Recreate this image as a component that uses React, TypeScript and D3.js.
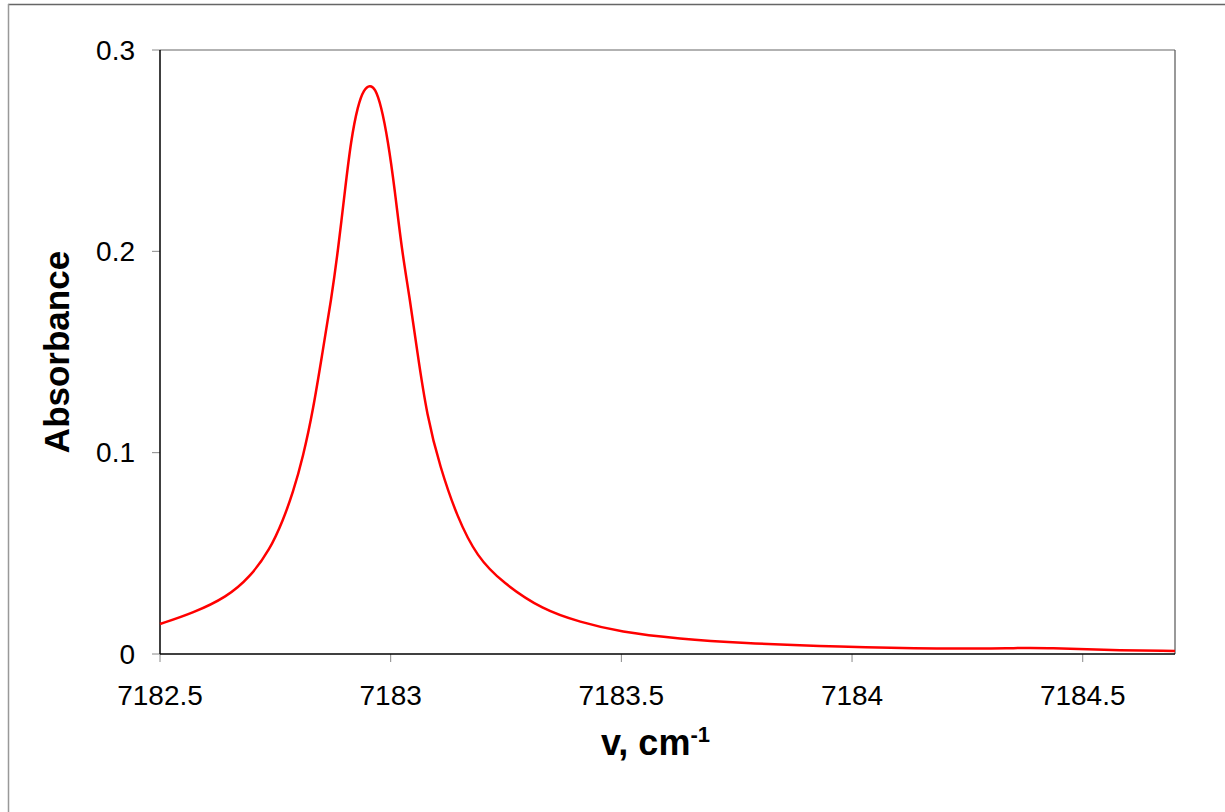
import React, { useEffect, useRef } from 'react';
import * as d3 from 'd3';

// wavenumber (cm-1) and absorbance
const wavenumber = [
  7182.5, 7182.572, 7182.645, 7182.695, 7182.738, 7182.767, 7182.788, 7182.81,
  7182.832, 7182.853, 7182.871, 7182.886, 7182.901, 7182.914, 7182.929, 7182.942,
  7182.955, 7182.966, 7182.979, 7182.994, 7183.009, 7183.024, 7183.042, 7183.057,
  7183.079, 7183.107, 7183.144, 7183.187, 7183.243, 7183.33, 7183.41, 7183.497,
  7183.627, 7183.757, 7183.973, 7184.19, 7184.37, 7184.428, 7184.537, 7184.7,
];
const absorbance = [
  0.0149, 0.0204, 0.0283, 0.0382, 0.0517, 0.0666, 0.08, 0.0978,
  0.1212, 0.151, 0.1758, 0.2007, 0.2305, 0.2553, 0.2727, 0.2806,
  0.2826, 0.2811, 0.2727, 0.2553, 0.2305, 0.2007, 0.1758, 0.151,
  0.1177, 0.0929, 0.068, 0.0482, 0.0353, 0.0219, 0.0159, 0.0109,
  0.0075, 0.0055, 0.0035, 0.0025, 0.003, 0.003, 0.002, 0.0015,
];
const xTicks = [7182.5, 7183, 7183.5, 7184, 7184.5];
const yTicks = [0, 0.1, 0.2, 0.3];

const W = 1225, H = 812;
const left = 160, right = 1175, top = 50, bottom = 654;
const font = 'Arial, "Liberation Sans", sans-serif';

function App() {
  const ref = useRef<SVGSVGElement>(null);

  useEffect(() => {
    const svg = d3.select(ref.current);
    svg.selectAll('*').remove();

    // outer frame
    svg.append('line').attr('x1', 8).attr('x2', W).attr('y1', 4.5).attr('y2', 4.5)
      .attr('stroke', '#666').attr('stroke-width', 1.5);
    svg.append('line').attr('x1', 8.5).attr('x2', 8.5).attr('y1', 4).attr('y2', H)
      .attr('stroke', '#999').attr('stroke-width', 1.5);

    const x = d3.scaleLinear().domain([7182.5, 7184.7]).range([left, right]);
    const y = d3.scaleLinear().domain([0, 0.3]).range([bottom, top]);

    // plot frame
    svg.append('line').attr('x1', left).attr('x2', right).attr('y1', top).attr('y2', top)
      .attr('stroke', '#999').attr('stroke-width', 1.5);
    svg.append('line').attr('x1', right).attr('x2', right).attr('y1', top).attr('y2', bottom)
      .attr('stroke', '#555').attr('stroke-width', 1.2);

    // y ticks
    yTicks.forEach(t => {
      svg.append('line').attr('x1', left - 8).attr('x2', left).attr('y1', y(t)).attr('y2', y(t))
        .attr('stroke', '#888').attr('stroke-width', 1);
      svg.append('text').attr('x', 135).attr('y', y(t)).attr('dy', '0.35em')
        .attr('text-anchor', 'end').attr('font-family', font).attr('font-size', 28)
        .attr('fill', '#000').text(String(t));
    });

    // x ticks
    xTicks.forEach(t => {
      svg.append('line').attr('x1', x(t)).attr('x2', x(t)).attr('y1', bottom).attr('y2', bottom + 8)
        .attr('stroke', '#888').attr('stroke-width', 1);
      svg.append('text').attr('x', x(t)).attr('y', 705)
        .attr('text-anchor', 'middle').attr('font-family', font).attr('font-size', 28)
        .attr('fill', '#000').text(String(t));
    });

    // axes
    svg.append('line').attr('x1', left).attr('x2', left).attr('y1', top).attr('y2', bottom)
      .attr('stroke', '#000').attr('stroke-width', 1.5);
    svg.append('line').attr('x1', left).attr('x2', right).attr('y1', bottom).attr('y2', bottom)
      .attr('stroke', '#000').attr('stroke-width', 1.5);

    // spectrum (basis curve smooths small reading errors)
    const pts: [number, number][] = wavenumber.map((w, i) => [w, absorbance[i]]);
    const line = d3.line<[number, number]>()
      .x(d => x(d[0])).y(d => y(d[1]))
      .curve(d3.curveBasis);
    svg.append('path').datum(pts).attr('d', line).attr('fill', 'none')
      .attr('stroke', '#ff0000').attr('stroke-width', 2.5);

    // titles
    svg.append('text').attr('transform', `translate(69,${(top + bottom) / 2}) rotate(-90)`)
      .attr('text-anchor', 'middle').attr('font-family', font).attr('font-size', 35)
      .attr('font-weight', 'bold').attr('fill', '#000').text('Absorbance');

    const xt = svg.append('text').attr('x', (left + right) / 2 - 12).attr('y', 755)
      .attr('text-anchor', 'middle').attr('font-family', font).attr('font-size', 36)
      .attr('font-weight', 'bold').attr('fill', '#000');
    xt.append('tspan').text('v, cm');
    xt.append('tspan').attr('font-size', 22).attr('dy', -13).text('-1');
  }, []);

  return (
    <svg ref={ref} width={W} height={H}
      style={{ position: 'absolute', left: 0, top: 0, background: '#fff' }} />
  );
}

export default App;
